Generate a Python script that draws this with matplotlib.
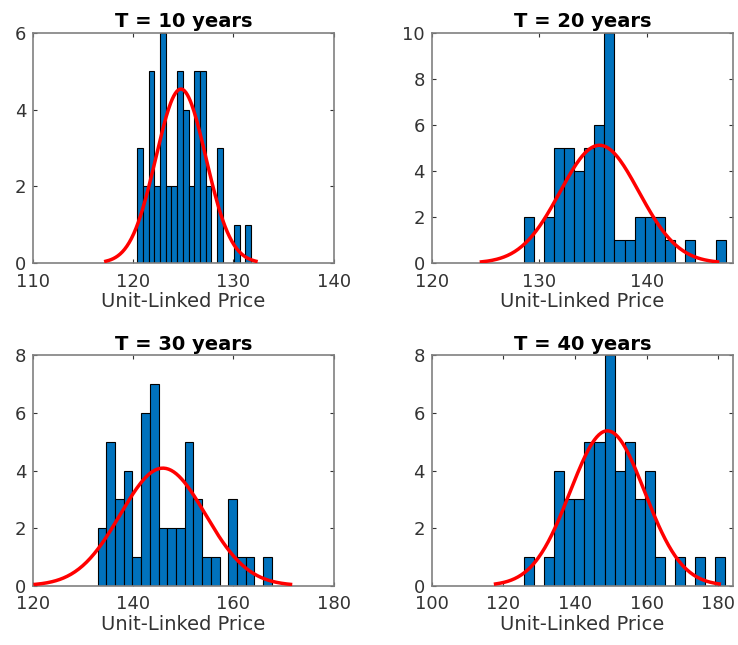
import numpy as np
import matplotlib
matplotlib.use("Agg")
from matplotlib import pyplot as plt

# histogram data (20 bins, 50 samples per panel)
titles = ["T = 10 years", "T = 20 years", "T = 30 years", "T = 40 years"]
bin_lo = [120.40, 128.54, 132.87, 125.77]
bin_hi = [131.77, 147.33, 167.67, 181.86]
counts_10 = [3, 2, 5, 2, 6, 2, 2, 5, 4, 2, 5, 5, 2, 0, 3, 0, 0, 1, 0, 1]
counts_20 = [2, 0, 2, 5, 5, 4, 5, 6, 10, 1, 1, 2, 2, 2, 1, 0, 1, 0, 0, 1]
counts_30 = [2, 5, 3, 4, 1, 6, 7, 2, 2, 2, 5, 3, 1, 1, 0, 3, 1, 1, 0, 1]
counts_40 = [1, 0, 1, 4, 3, 3, 5, 5, 8, 4, 5, 3, 4, 1, 0, 1, 0, 1, 0, 1]
counts = [counts_10, counts_20, counts_30, counts_40]

# fitted normal parameters (histfit)
fit_mu = [124.75, 135.6, 145.9, 149.0]
fit_sigma = [2.5, 3.66, 8.5, 10.4]

xlims = [(110, 140), (120, 148), (120, 180), (100, 184)]
xticks = [[110, 120, 130, 140], [120, 130, 140], [120, 140, 160, 180], [100, 120, 140, 160, 180]]
ylims = [6, 10, 8, 8]
yticks = [[0, 2, 4, 6], [0, 2, 4, 6, 8, 10], [0, 2, 4, 6, 8], [0, 2, 4, 6, 8]]

positions = [
    [0.045, 0.592, 0.407, 0.357],
    [0.585, 0.592, 0.408, 0.357],
    [0.045, 0.092, 0.407, 0.357],
    [0.585, 0.092, 0.408, 0.357],
]

fig = plt.figure(figsize=(7.38, 6.45), dpi=100)

for i in range(4):
    ax = fig.add_axes(positions[i])
    c = np.array(counts[i])
    edges = np.linspace(bin_lo[i], bin_hi[i], len(c) + 1)
    bw = edges[1] - edges[0]
    ax.bar(edges[:-1], c, width=bw, align="edge", color="#0072BD",
           edgecolor="black", linewidth=0.8, zorder=2)

    mu, sd = fit_mu[i], fit_sigma[i]
    x = np.linspace(mu - 3 * sd, mu + 3 * sd, 200)
    y = c.sum() * bw * np.exp(-0.5 * ((x - mu) / sd) ** 2) / (sd * np.sqrt(2 * np.pi))
    ax.plot(x, y, color="red", linewidth=2.5, zorder=3)

    ax.set_xlim(*xlims[i])
    ax.set_ylim(0, ylims[i])
    ax.set_xticks(xticks[i])
    ax.set_yticks(yticks[i])
    ax.set_title(titles[i], fontsize=14, fontweight="bold", pad=4)
    ax.set_xlabel("Unit-Linked Price", fontsize=14, color="#333333", labelpad=1)
    ax.tick_params(direction="in", top=True, right=True, length=3, width=0.8,
                   labelsize=13, colors="#333333")
    ax.tick_params(axis="x", pad=7)
    ax.tick_params(axis="y", pad=5)
    for s in ax.spines.values():
        s.set_color("#808080")
        s.set_linewidth(1.2)

fig.savefig("out.png", dpi=100)
